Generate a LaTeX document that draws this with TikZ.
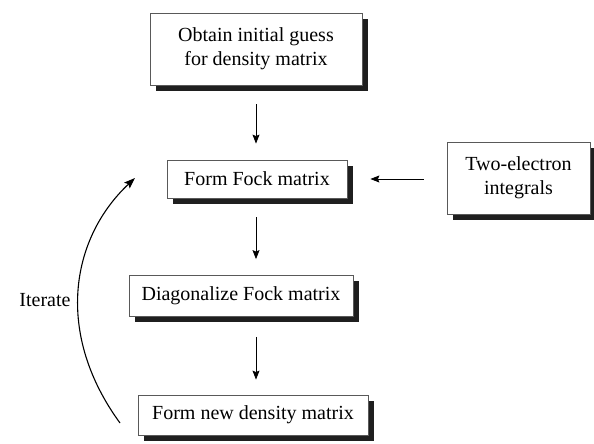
\documentclass[tikz,border=0pt]{standalone}
\usepackage{fontspec}
\setmainfont{Liberation Serif}
\usetikzlibrary{arrows.meta,shadows}
\begin{document}
\begin{tikzpicture}[x=1pt,y=1pt,
  box/.style={draw=black!65, line width=0.8pt, fill=white, align=center,
    inner sep=0pt, font=\fontsize{20}{24}\selectfont,
    drop shadow={opacity=1, fill=black!88, shadow xshift=6pt, shadow yshift=-6pt}},
  flow/.style={line width=0.8pt, -{Stealth[length=9pt,width=7pt,inset=1.5pt]}},
  loop/.style={line width=1.1pt, -{Stealth[length=11pt,width=8pt,inset=2pt]}},
  lbl/.style={font=\fontsize{20}{24}\selectfont}]
\useasboundingbox (0,0) rectangle (594,444);
\node[box, minimum width=212pt, minimum height=72pt] (b1) at (256,395) {Obtain initial guess\\for density matrix};
\node[box, minimum width=180pt, minimum height=38pt] (b2) at (257,265) {Form Fock matrix};
\node[box, minimum width=224pt, minimum height=41pt] (b3) at (241,148) {Diagonalize Fock matrix};
\node[box, minimum width=230pt, minimum height=40pt] (b5) at (253,29) {Form new density matrix};
\node[box, minimum width=143pt, minimum height=72pt] (b4) at (518.5,266) {Two-electron\\integrals};
\coordinate (col) at (256,0);
\draw[flow, shorten <=19pt, shorten >=16pt] (b1.south -| col) -- (b2.north -| col);
\draw[flow, shorten <=19pt, shorten >=16pt] (b2.south -| col) -- (b3.north -| col);
\draw[flow, shorten <=20pt, shorten >=15pt] (b3.south -| col) -- (b5.north -| col);
\draw[flow, shorten <=23pt, shorten >=23pt] (b4.west |- b2.east) -- (b2.east);
\coordinate (itS) at (120,21);
\coordinate (itE) at (135,266);
\draw[loop] (itS) .. controls (55,110) and (70,205) .. (itE);
\node[lbl] (it) at (45,144) {Iterate};
\end{tikzpicture}
\end{document}
